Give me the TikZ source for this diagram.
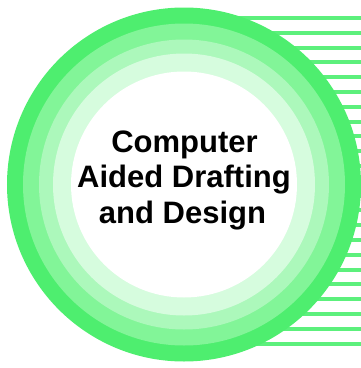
\documentclass[tikz,border=0pt]{standalone}
\usepackage{fontspec}
\setmainfont{Liberation Sans}
\definecolor{ringA}{RGB}{78,238,111}
\definecolor{ringB}{RGB}{130,245,152}
\definecolor{ringC}{RGB}{172,248,187}
\definecolor{ringD}{RGB}{214,252,222}
\definecolor{stripe}{RGB}{92,240,124}
\begin{document}
\begin{tikzpicture}[x=1pt,y=1pt,
  stripeline/.style={stripe,line width=4pt},
  label/.style={font=\bfseries\fontsize{31}{35}\selectfont,text=black,anchor=base,inner sep=0pt}]
\useasboundingbox (0,0) rectangle (361,-368);
% horizontal stripes running out to the right, behind the disc
\foreach \k in {0,...,22}{
  \draw[stripeline] (184,{-18-14.8*\k}) -- (361,{-18-14.8*\k});
}
% concentric rings, darkest outside
\coordinate (c) at (184,-184.5);
\fill[ringA] (c) circle (177);
\fill[ringB] (c) circle (161);
\fill[ringC] (c) circle (145);
\fill[ringD] (c) circle (131);
\fill[white] (c) circle (113);
% title, one node per line, placed on its baseline
\node[label] (line1) at (184.5,-152) {Computer};
\node[label] (line2) at (184,-187) {Aided Drafting};
\node[label] (line3) at (182.5,-223) {and Design};
\end{tikzpicture}
\end{document}
